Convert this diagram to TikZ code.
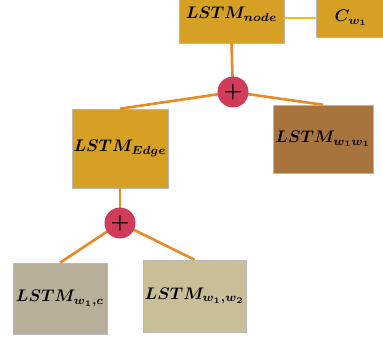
\documentclass[tikz,border=0pt]{standalone}
\usepackage{graphicx}
\usepackage{bm}
\definecolor{gold}{HTML}{D5A024}
\definecolor{brownbox}{HTML}{A8743E}
\definecolor{greybox}{HTML}{B8AF9A}
\definecolor{sandbox}{HTML}{C8BF99}
\definecolor{sumred}{HTML}{D13C5A}
\definecolor{wire}{HTML}{E88A26}
\definecolor{yellowwire}{HTML}{F2B81C}
% enlarged bold-italic math label
\newcommand{\celllabel}[1]{\scalebox{1.68}{$\bm{#1}$}}
\tikzset{
  cell/.style={draw=gray!55, line width=0.5pt, inner sep=0pt},
  sumnode/.style={circle, fill=sumred, minimum size=31pt, inner sep=0pt},
  link/.style={wire, line width=2.6pt}
}
\begin{document}
\begin{tikzpicture}[x=1pt,y=-1pt]
\useasboundingbox (0,0) rectangle (383,339);
% boxes
\node[cell, fill=gold, minimum width=105pt, minimum height=58pt] (node) at (231.5,14) {\celllabel{LSTM_{node}}};
\node[cell, fill=gold, minimum width=70pt, minimum height=38pt] (cw) at (351,18) {\celllabel{C_{w_1}}};
\node[cell, fill=gold, minimum width=96pt, minimum height=79pt] (edge) at (120,148.5) {\celllabel{LSTM_{Edge}}};
\node[cell, fill=brownbox, minimum width=100pt, minimum height=68pt] (ww) at (323,139) {\celllabel{LSTM_{w_1w_1}}};
\node[cell, fill=greybox, minimum width=94pt, minimum height=71pt] (wc) at (60,298.5) {\celllabel{LSTM_{w_1,c}}};
\node[cell, fill=sandbox, minimum width=103pt, minimum height=72pt] (w2) at (194.5,296) {\celllabel{LSTM_{w_1,w_2}}};
% connectors
\draw[yellowwire, line width=2.4pt] (node.east |- cw.west) -- (cw.west);
\coordinate (p1c) at (233,92);
\coordinate (p2c) at (120,223);
\draw[link] (node.south) -- (p1c);
\draw[link] (p1c) -- (edge.north);
\draw[link] (p1c) -- (ww.north);
\draw[link] (edge.south) -- (p2c);
\draw[link] (p2c) -- (wc.north);
\draw[link] (p2c) -- (w2.north);
% summation points
\node[sumnode] (p1) at (p1c) {\scalebox{2.1}{\textbf{+}}};
\node[sumnode] (p2) at (p2c) {\scalebox{2.1}{\textbf{+}}};
\end{tikzpicture}
\end{document}
